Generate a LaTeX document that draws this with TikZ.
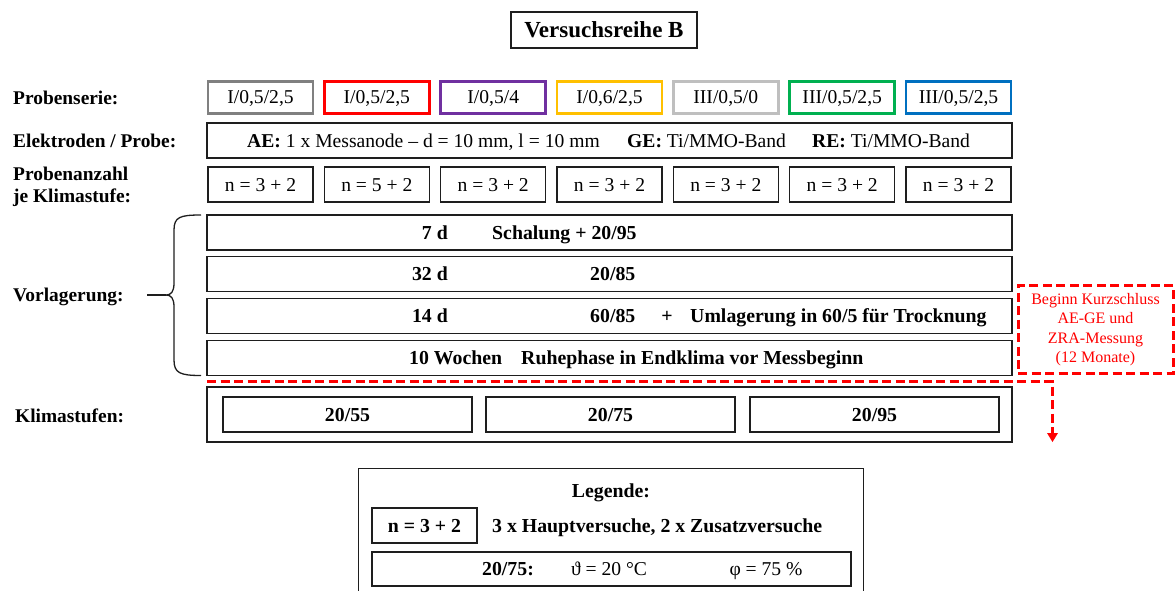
\documentclass[tikz,border=0pt]{standalone}
\usepackage{fontspec}
\setmainfont{Liberation Serif}
\usetikzlibrary{arrows.meta}
\definecolor{cgray}{RGB}{128,128,128}
\definecolor{cred}{RGB}{255,0,0}
\definecolor{cpurple}{RGB}{112,48,160}
\definecolor{cgold}{RGB}{255,192,0}
\definecolor{clgray}{RGB}{191,191,191}
\definecolor{cgreen}{RGB}{0,176,80}
\definecolor{cblue}{RGB}{0,112,192}
\definecolor{lineblack}{RGB}{30,30,30}
\begin{document}
\begin{tikzpicture}[x=1pt,y=-1pt,
  every node/.style={font=\fontsize{19.6}{22}\selectfont, inner sep=0pt},
  txt/.style={text height=13pt,text depth=0pt},
  lbl/.style={txt, anchor=west, font=\fontsize{19.4}{22}\selectfont\bfseries},
  bold/.style={font=\fontsize{19.8}{22}\selectfont\bfseries},
  box/.style={draw=lineblack, rectangle, line width=1.3pt, txt, minimum height=35pt},
  serbox/.style={box, line width=2.6pt, minimum width=105pt, minimum height=32.5pt},
  nbox/.style={box, minimum width=105pt},
  wide/.style={box, minimum width=805pt},
  klbox/.style={box, bold, minimum width=249pt},
  reddash/.style={draw=cred, line width=3pt, dash pattern=on 9pt off 4.5pt},
]
\useasboundingbox (0,0) rectangle (1175,591);

% title
\node[box, line width=1.6pt, minimum width=186pt, minimum height=36pt,
      font=\fontsize{23}{26}\selectfont\bfseries, text height=15pt] (title) at (604,30) {Versuchsreihe B};

% labels
\node[lbl] (lser) at (13,98) {Probenserie:};
\node[lbl] (lel) at (13,140.5) {Elektroden / Probe:};
\node[anchor=north west, align=left, font=\fontsize{19.4}{22}\selectfont\bfseries] (lanz) at (13,167) {Probenanzahl\\je Klimastufe:};
\node[lbl] (lvor) at (13,295) {Vorlagerung:};
\node[lbl] (lkl) at (15,416) {Klimastufen:};

% row 1: series
\node[serbox, draw=cgray]   (s1) at (260.5,97.5) {I/0,5/2,5};
\node[serbox, draw=cred]    (s2) at (376.8,97.5) {I/0,5/2,5};
\node[serbox, draw=cpurple] (s3) at (493.2,97.5) {I/0,5/4};
\node[serbox, draw=cgold]   (s4) at (609.5,97.5) {I/0,6/2,5};
\node[serbox, draw=clgray]  (s5) at (725.8,97.5) {III/0,5/0};
\node[serbox, draw=cgreen]  (s6) at (842.2,97.5) {III/0,5/2,5};
\node[serbox, draw=cblue]   (s7) at (958.5,97.5) {III/0,5/2,5};

% row 2: electrodes
\node[wide] (el) at (609.5,140.5) {};
\node[txt, anchor=west] (ae) at (247,140.5) {\textbf{AE:} 1 x Messanode -- d = 10 mm, l = 10 mm};
\node[txt, anchor=west] (ge) at (627,140.5) {\textbf{GE:} Ti/MMO-Band};
\node[txt, anchor=west] (re) at (812,140.5) {\textbf{RE:} Ti/MMO-Band};

% row 3: counts
\node[nbox] (n1) at (260.5,184.5) {n = 3 + 2};
\node[nbox] (n2) at (376.8,184.5) {n = 5 + 2};
\node[nbox] (n3) at (493.2,184.5) {n = 3 + 2};
\node[nbox] (n4) at (609.5,184.5) {n = 3 + 2};
\node[nbox] (n5) at (725.8,184.5) {n = 3 + 2};
\node[nbox] (n6) at (842.2,184.5) {n = 3 + 2};
\node[nbox] (n7) at (958.5,184.5) {n = 3 + 2};

% Vorlagerung rows
\node[wide] (v1) at (609.5,232.5) {};
\node[wide] (v2) at (609.5,274) {};
\node[wide] (v3) at (609.5,316) {};
\node[wide] (v4) at (609.5,358) {};
\node[txt, bold, anchor=east] (v1a) at (448,232.5) {7 d};
\node[txt, bold, anchor=west] (v1b) at (492,232.5) {Schalung + 20/95};
\node[txt, bold, anchor=east] (v2a) at (448,274) {32 d};
\node[txt, bold, anchor=west] (v2b) at (590,274) {20/85};
\node[txt, bold] (v3c) at (667,316) {+};
\node[txt, bold, anchor=east] (v3a) at (448,316) {14 d};
\node[txt, bold, anchor=west] (v3b) at (590,316) {60/85};
\node[txt, bold, anchor=west] (v3d) at (690,316) {Umlagerung in 60/5 für Trocknung};
\node[txt, bold, anchor=west] (v4a) at (409,358) {10 Wochen};
\node[txt, bold, anchor=west] (v4b) at (521,358) {Ruhephase in Endklima vor Messbeginn};

% brace
\coordinate (btop) at (201,215);
\coordinate (bbot) at (201,375.5);
\coordinate (btip) at (166,295);
\coordinate (bline) at (147,295);
\draw[lineblack, line width=1.3pt]
  (btop) .. controls (180,215) and (174,217) .. (174,230)
  -- (174,283) .. controls (174,292) and (171,295) .. (btip)
  .. controls (171,295) and (174,298) .. (174,307)
  -- (174,360) .. controls (174,373) and (180,375.5) .. (bbot);
\draw[lineblack, line width=1.3pt] (bline) -- (btip);

% Klimastufen
\node[box, line width=2pt, minimum width=805pt, minimum height=55pt] (kl) at (609.5,414.5) {};
\node[klbox] (k1) at (347.5,414.5) {20/55};
\node[klbox] (k2) at (610.5,414.5) {20/75};
\node[klbox] (k3) at (874.5,414.5) {20/95};

% red dashed note and arrow
\node[reddash, rectangle, minimum width=155pt, minimum height=88pt, align=center,
      text=cred, font=\fontsize{16}{19.5}\selectfont] (note) at (1095.5,329.5)
      {Beginn Kurzschluss\\AE-GE und\\ZRA-Messung\\(12 Monate)};
\coordinate (dstart) at (207,381.5);
\coordinate (dcorner) at (1052.5,381.5);
\coordinate (dend) at (1052.5,434);
\coordinate (dtip) at (1052.5,442);
\draw[draw=cred, line width=3.2pt, dash pattern=on 9pt off 4.5pt] (dstart) -- (dcorner) -- (dend);
\fill[cred] (1047,433) -- (1058,433) -- (dtip) -- cycle;

% legend
\draw[lineblack, line width=1.6pt] (358.5,595) -- (358.5,468.5) -- (863.5,468.5) -- (863.5,595);
\node[txt, bold] (leg) at (611,491) {Legende:};
\node[nbox, bold] (ln) at (424.5,525.5) {n = 3 + 2};
\node[txt, bold, anchor=west] (lntext) at (492,525.5) {3 x Hauptversuche, 2 x Zusatzversuche};
\node[box, minimum width=479pt, minimum height=34pt] (lk) at (611.5,569) {};
\node[txt, bold] (lk1) at (508,569) {20/75:};
\node[txt] (lk2) at (609,569) {ϑ = 20 °C};
\node[txt] (lk3) at (766,569) {φ = 75 \%};
\end{tikzpicture}
\end{document}
